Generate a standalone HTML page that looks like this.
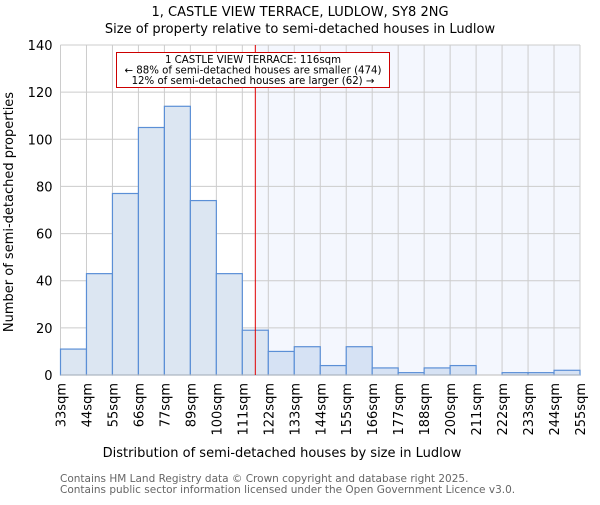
<!DOCTYPE html>
<html><head><meta charset="utf-8"><style>
body{margin:0;background:#fff}
svg text{font-family:"DejaVu Sans","Liberation Sans",sans-serif}
</style></head><body>
<svg id="c" width="600" height="500" xmlns="http://www.w3.org/2000/svg">
<text x="300" y="16" text-anchor="middle" font-size="13">1, CASTLE VIEW TERRACE, LUDLOW, SY8 2NG</text>
<text x="300" y="33" text-anchor="middle" font-size="13">Size of property relative to semi-detached houses in Ludlow</text>
<g id="plot"></g>
<text x="282" y="457" text-anchor="middle" font-size="13">Distribution of semi-detached houses by size in Ludlow</text>
<text transform="translate(13,212) rotate(-90)" text-anchor="middle" font-size="13">Number of semi-detached properties</text>
<text x="60" y="482" font-size="10.5" fill="#666">Contains HM Land Registry data © Crown copyright and database right 2025.</text>
<text x="60" y="493" font-size="10.5" fill="#666">Contains public sector information licensed under the Open Government Licence v3.0.</text>
</svg>
<script>
const edges=["33sqm","44sqm","55sqm","66sqm","77sqm","89sqm","100sqm","111sqm","122sqm","133sqm","144sqm","155sqm","166sqm","177sqm","188sqm","200sqm","211sqm","222sqm","233sqm","244sqm","255sqm"];
const counts=[11,43,77,105,114,74,43,19,10,12,4,12,3,1,3,4,0,1,1,2];
const yTicks=[0,20,40,60,80,100,120,140];
const marker=116;
const edgeVals=[33,44,55,66,77,88.5,99.5,110.5,121.5,132.5,143.5,154.5,165.5,176.5,187.5,199,210,221,232,243,254];
const X0=60.5,X1=580,Y0=375,Y1=45,ns="http://www.w3.org/2000/svg";
const n=counts.length;
const xi=i=>X0+(X1-X0)*i/n;
const y=v=>Y0-(Y0-Y1)*v/140;
function xv(v){for(let i=0;i<edgeVals.length-1;i++){if(v<=edgeVals[i+1])return xi(i+(v-edgeVals[i])/(edgeVals[i+1]-edgeVals[i]));}return X1;}
const g=document.getElementById('plot');
function mk(t,a,p){const e=document.createElementNS(ns,t);for(const k in a)e.setAttribute(k,a[k]);(p||g).appendChild(e);return e;}
const mx=xv(marker);
let e=mk('rect',{x:mx,y:Y1,width:X1-mx,height:Y0-Y1,fill:'#f4f7fe'});


for(let i=0;i<=n;i++){e=mk('line',{x1:xi(i),x2:xi(i),y1:Y1,y2:Y0,stroke:'#ccc'});

}
yTicks.forEach(t=>{e=mk('line',{x1:X0,x2:X1,y1:y(t),y2:y(t),stroke:'#ccc'});


e=mk('text',{x:X0-8,y:y(t)+5,'text-anchor':'end','font-size':'13'});e.textContent=t;

});
counts.forEach((c,i)=>{e=mk('rect',{x:xi(i),y:y(c),width:xi(i+1)-xi(i),height:Y0-y(c),fill:i>=8?'#d6e2f4':'#dce6f2',stroke:'#5b8fd6','stroke-width':1.2});

});
edges.forEach((l,i)=>{e=mk('text',{transform:`translate(${xi(i)+5},383) rotate(-90)`,'text-anchor':'end','font-size':'13'});e.textContent=l;

});
e=mk('line',{x1:X0,x2:X1,y1:Y0,y2:Y0,stroke:'#bbb'});


e=mk('line',{x1:mx,x2:mx,y1:Y1,y2:Y0,stroke:'#e00000','stroke-width':1});


e=mk('rect',{x:116.5,y:52.5,width:273,height:35,fill:'#fff',stroke:'#c00'});


["1 CASTLE VIEW TERRACE: 116sqm","← 88% of semi-detached houses are smaller (474)","12% of semi-detached houses are larger (62) →"].forEach((t,i)=>{e=mk('text',{x:253,y:63+i*10.5,'text-anchor':'middle','font-size':'10.2'});e.textContent=t;

});
</script>
</body></html>
